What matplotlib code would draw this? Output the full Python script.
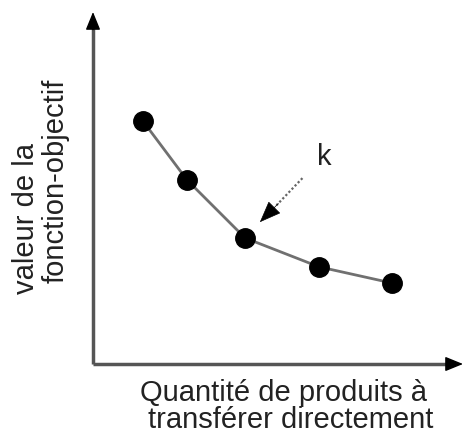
import matplotlib
matplotlib.use("Agg")
import matplotlib.pyplot as plt

plt.rcParams['font.family'] = ['Liberation Sans', 'DejaVu Sans']

# data (arbitrary units)
quantity = [1.35, 2.54, 4.11, 6.11, 8.08]
objective = [6.90, 5.23, 3.58, 2.76, 2.30]
k_index = 2
xlabel_lines = ["Quantité de produits à", "transférer directement"]
ylabel_lines = ["valeur de la", "fonction-objectif"]

W, H = 463, 437
fig = plt.figure(figsize=(W / 100, H / 100), dpi=100)
ox, oy = 93, 364
ax = fig.add_axes([ox / W, (H - oy) / H, (W - ox) / W, (oy - 12) / H])
ax.set_xlim(0, 10)
ax.set_ylim(0, 10)
ax.axis('off')

axis_col = '#555555'
head = '-|>,head_length=1.1,head_width=0.45'
# x axis
ax.plot([0, 0.97], [0, 0], transform=ax.transAxes, color=axis_col, lw=2.5,
        clip_on=False, solid_capstyle='butt')
ax.annotate('', xy=(1.0, 0), xytext=(0.96, 0), xycoords='axes fraction',
            arrowprops=dict(arrowstyle=head, color='black', lw=1.0,
                            shrinkA=0, shrinkB=0), annotation_clip=False)
# y axis
ax.plot([0, 0], [0, 0.96], transform=ax.transAxes, color=axis_col, lw=2.5,
        clip_on=False, solid_capstyle='butt')
ax.annotate('', xy=(0, 1.0), xytext=(0, 0.95), xycoords='axes fraction',
            arrowprops=dict(arrowstyle=head, color='black', lw=1.0,
                            shrinkA=0, shrinkB=0), annotation_clip=False)

ax.plot(quantity, objective, color='#707070', lw=2.0, marker='o',
        markersize=14, markerfacecolor='black', markeredgecolor='black',
        clip_on=False, zorder=3)

# k annotation: dotted shaft + solid head
kx, ky = quantity[k_index], objective[k_index]
tail = (kx + 1.55, ky + 1.7)
tip = (kx + 0.40, ky + 0.45)
ax.plot([tail[0], tip[0] + 0.45], [tail[1], tip[1] + 0.48], color='#666666',
        lw=1.6, ls=(0, (1, 1)), zorder=2)
ax.annotate('', xy=tip, xytext=(tip[0] + 0.5, tip[1] + 0.53),
            arrowprops=dict(arrowstyle='-|>,head_length=1.4,head_width=0.55',
                            color='black', lw=0.5, shrinkA=0, shrinkB=0))
ax.text(kx + 2.15, ky + 2.3, 'k', fontsize=21, color='#222222',
        ha='center', va='center')

txt_col = '#222222'
fs = 21
fig.text(284 / W, 1 - 393 / H, xlabel_lines[0], fontsize=fs, color=txt_col,
         ha='center', va='center')
fig.text(291 / W, 1 - 420 / H, xlabel_lines[1], fontsize=fs, color=txt_col,
         ha='center', va='center')
fig.text(26 / W, 1 - 219 / H, ylabel_lines[0], fontsize=fs, color=txt_col,
         ha='center', va='center', rotation=90)
fig.text(56 / W, 1 - 181 / H, ylabel_lines[1], fontsize=fs, color=txt_col,
         ha='center', va='center', rotation=90)

fig.savefig('out.png', dpi=100)
